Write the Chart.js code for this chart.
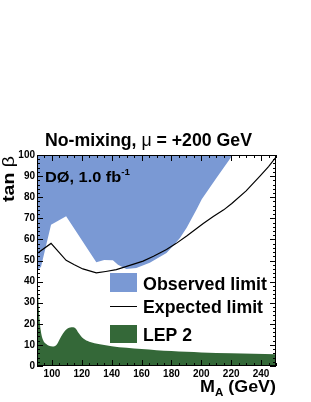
<!DOCTYPE html>
<html>
<head>
<meta charset="utf-8">
<script src="https://cdn.jsdelivr.net/npm/chart.js@4"></script>
<style>
  html, body { margin: 0; padding: 0; background: #fff; }
  #wrap { width: 311px; height: 402px; }
</style>
</head>
<body>
<div id="wrap"><canvas id="limitChart" width="311" height="402"></canvas></div>
<script>
// =====================================
// DATA
// =====================================
const observedMass = [90, 92.7, 99.4, 109.5, 129.7, 135, 140.8, 144.2, 149.8, 156.5, 165.5, 176.7, 181.2, 185.7, 190.2, 196.9, 200.3, 210, 221];
const observedTanb = [45, 47, 67, 71, 49.2, 50.2, 50.1, 48, 46, 46.5, 48.9, 53.6, 57, 60.7, 65.5, 74.3, 79, 89, 100];

const expectedMass = [90, 99.4, 109.5, 115, 120.7, 129.7, 136, 143.1, 150, 161, 168, 176.7, 183, 190.2, 201.3, 208, 215, 220.4, 230, 239.4, 245, 250];
const expectedTanb = [53.3, 58.1, 50.1, 48, 46, 44.1, 44.8, 45.7, 47.2, 49.7, 52, 55.2, 58, 61.6, 67.5, 70.8, 74, 77, 83, 90.1, 94.5, 99];

const lepMass = [90, 90.7, 91.5, 92.5, 94, 96, 98, 100.5, 103, 105, 107.5, 110, 113, 115.5, 118, 121, 125, 132, 140, 150, 160, 170, 180, 190, 200, 220, 250];
const lepTanb = [47, 35, 24, 17, 12.5, 10.5, 9.6, 9.3, 10, 12.5, 15.5, 17.5, 18.4, 18, 15.5, 13, 11.5, 10.3, 9.4, 8.6, 8, 7.5, 7.1, 6.7, 6.4, 6, 5.6];

const xTickValues = [100, 120, 140, 160, 180, 200, 220, 240];
const yTickValues = [0, 10, 20, 30, 40, 50, 60, 70, 80, 90, 100];

const BLUE = "rgb(122, 153, 212)";
const GREEN = "rgb(52, 104, 56)";
const FONT = "'Liberation Sans', Arial, Helvetica, sans-serif";

function toPoints(xs, ys) {
  return xs.map((v, i) => ({ x: v, y: ys[i] }));
}

// =====================================
// FRAME + INWARD TICKS (ROOT style)
// =====================================
const frameTicks = {
  id: "frameTicks",
  afterDatasetsDraw(chart) {
    const { ctx, chartArea: a, scales: { x, y } } = chart;
    ctx.save();
    ctx.strokeStyle = "#000";
    ctx.lineWidth = 1;
    ctx.beginPath();
    for (let v = 90; v <= 250; v += 5) {
      const px = Math.round(x.getPixelForValue(v)) + 0.5;
      const len = (v % 20 === 0) ? 6 : 3;
      ctx.moveTo(px, a.bottom); ctx.lineTo(px, a.bottom - len);
      ctx.moveTo(px, a.top); ctx.lineTo(px, a.top + len);
    }
    for (let v = 0; v <= 100; v += 2) {
      const py = Math.round(y.getPixelForValue(v)) + 0.5;
      const len = (v % 10 === 0) ? 6 : 3;
      ctx.moveTo(a.left, py); ctx.lineTo(a.left + len, py);
      ctx.moveTo(a.right, py); ctx.lineTo(a.right - len, py);
    }
    ctx.stroke();
    ctx.strokeRect(Math.round(a.left) + 0.5, Math.round(a.top) + 0.5,
      Math.round(a.right - a.left) - 1, Math.round(a.bottom - a.top) - 1);
    ctx.restore();
  }
};

// =====================================
// TEXTS + LEGEND
// =====================================
function drawParts(ctx, parts, x, y) {
  let cx = x;
  parts.forEach(p => {
    ctx.font = p.font;
    ctx.fillText(p.text, cx, y + (p.dy || 0));
    cx += ctx.measureText(p.text).width;
  });
}
function partsWidth(ctx, parts) {
  return parts.reduce((w, p) => { ctx.font = p.font; return w + ctx.measureText(p.text).width; }, 0);
}
// draw text squeezed/stretched to the width it has in the reference
function fitParts(ctx, parts, x, y, targetW) {
  const s = targetW / partsWidth(ctx, parts);
  ctx.save();
  ctx.translate(x, y);
  ctx.scale(s, 1);
  drawParts(ctx, parts, 0, 0);
  ctx.restore();
}

const annotations = {
  id: "annotations",
  afterDraw(chart) {
    const ctx = chart.ctx;
    ctx.save();
    ctx.fillStyle = "#000";
    ctx.textBaseline = "alphabetic";
    ctx.textAlign = "left";

    // title
    fitParts(ctx, [
      { text: "No-mixing, ", font: `bold 18px ${FONT}` },
      { text: "μ", font: `18px ${FONT}` },
      { text: " = +200 GeV", font: `bold 18px ${FONT}` }
    ], 45, 146, 207);

    // experiment label
    fitParts(ctx, [
      { text: "DØ, 1.0 fb", font: `bold 15px ${FONT}` },
      { text: "-1", font: `bold 9px ${FONT}`, dy: -7 }
    ], 45, 182, 85);

    // y axis title
    ctx.save();
    ctx.translate(14, 156);
    ctx.rotate(-Math.PI / 2);
    fitParts(ctx, [
      { text: "tan ", font: `bold 17px ${FONT}` },
      { text: "β", font: `17px ${FONT}` }
    ], -46, 0, 46);
    ctx.restore();

    // x axis title
    fitParts(ctx, [
      { text: "M", font: `bold 17px ${FONT}` },
      { text: "A", font: `bold 11px ${FONT}`, dy: 4 },
      { text: " (GeV)", font: `bold 17px ${FONT}` }
    ], 200, 392, 76);

    // legend
    ctx.fillStyle = BLUE;
    ctx.fillRect(110, 273, 27, 19);
    ctx.fillStyle = GREEN;
    ctx.fillRect(110, 325, 27, 18);
    ctx.strokeStyle = "#000";
    ctx.lineWidth = 1;
    ctx.beginPath();
    ctx.moveTo(110, 306.5); ctx.lineTo(137, 306.5);
    ctx.stroke();
    ctx.fillStyle = "#000";
    const legendFont = `bold 18px ${FONT}`;
    fitParts(ctx, [{ text: "Observed limit", font: legendFont }], 143, 290, 124);
    fitParts(ctx, [{ text: "Expected limit", font: legendFont }], 143, 313, 120);
    fitParts(ctx, [{ text: "LEP 2", font: legendFont }], 143, 341, 49);
    ctx.restore();
  }
};

// =====================================
// CHART
// =====================================
const tickFont = { family: FONT, weight: "bold", size: 10 };

new Chart(document.getElementById("limitChart"), {
  type: "line",
  data: {
    datasets: [
      {
        label: "Expected limit",
        data: toPoints(expectedMass, expectedTanb),
        borderColor: "#000",
        borderWidth: 1.2,
        pointRadius: 0,
        tension: 0,
        fill: false,
        order: 0
      },
      {
        label: "LEP 2",
        data: toPoints(lepMass, lepTanb),
        borderColor: GREEN,
        backgroundColor: GREEN,
        borderWidth: 0,
        pointRadius: 0,
        cubicInterpolationMode: "monotone",
        fill: "origin",
        order: 1
      },
      {
        label: "Observed limit",
        data: toPoints(observedMass, observedTanb),
        borderColor: BLUE,
        backgroundColor: BLUE,
        borderWidth: 0,
        pointRadius: 0,
        tension: 0,
        fill: "end",
        order: 2
      }
    ]
  },
  options: {
    responsive: false,
    animation: false,
    devicePixelRatio: 1,
    layout: { padding: { top: 155, right: 35, left: 0, bottom: 0 } },
    plugins: {
      legend: { display: false },
      title: { display: false },
      tooltip: { enabled: false }
    },
    scales: {
      x: {
        type: "linear",
        min: 90,
        max: 250,
        grid: { display: false, drawTicks: false },
        border: { display: false },
        afterBuildTicks: s => { s.ticks = xTickValues.map(v => ({ value: v })); },
        afterFit: s => { s.height = 36; },
        ticks: { font: tickFont, color: "#000", padding: 2, maxRotation: 0, autoSkip: false }
      },
      y: {
        min: 0,
        max: 100,
        grid: { display: false, drawTicks: false },
        border: { display: false },
        afterBuildTicks: s => { s.ticks = yTickValues.map(v => ({ value: v })); },
        afterFit: s => { s.width = 37; },
        ticks: { font: tickFont, color: "#000", padding: 2, autoSkip: false }
      }
    }
  },
  plugins: [frameTicks, annotations]
});
</script>
</body>
</html>
